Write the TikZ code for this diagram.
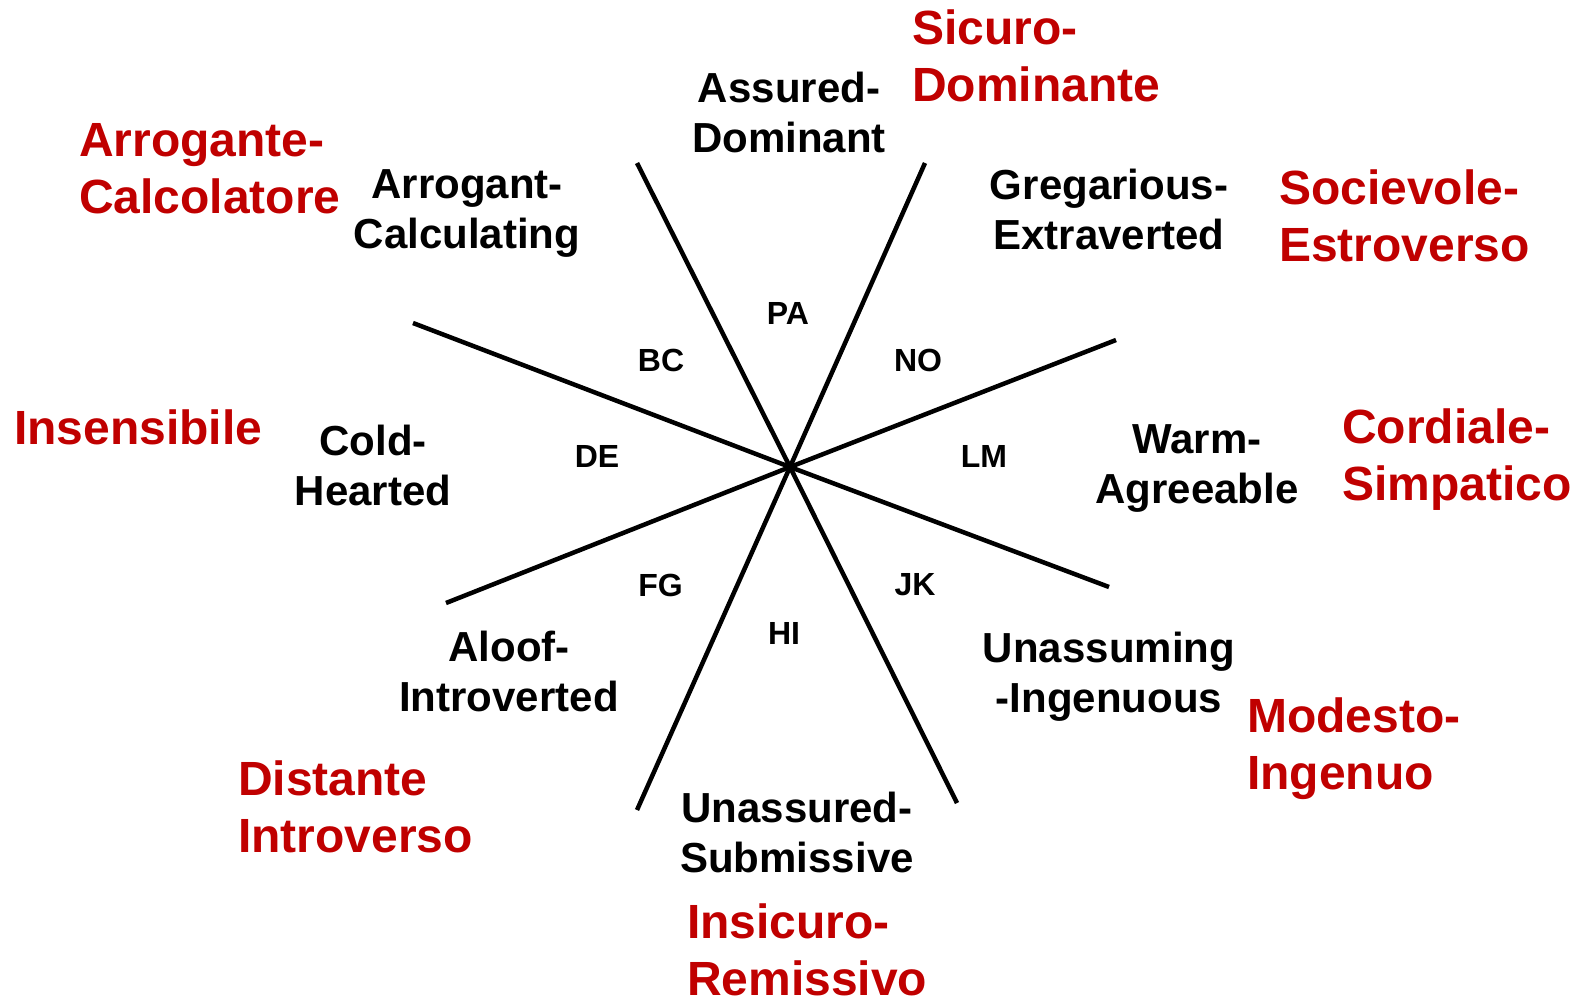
\documentclass[tikz,border=0pt]{standalone}
\usepackage{fontspec}
\setmainfont{Liberation Sans}
\definecolor{myred}{HTML}{C00000}
\newcommand\mycstack[1]{\begin{tabular}[t]{@{}c@{}}#1\end{tabular}}
\newcommand\mylstack[1]{\begin{tabular}[t]{@{}l@{}}#1\end{tabular}}
\begin{document}
\begin{tikzpicture}[x=1pt,y=-1pt,
  blk/.style={font=\fontsize{42}{50}\selectfont\bfseries, inner sep=0pt, anchor=base},
  redl/.style={font=\fontsize{48}{57}\selectfont\bfseries, text=myred, inner sep=0pt, anchor=base west},
  sml/.style={font=\fontsize{32}{38}\selectfont\bfseries, inner sep=0pt, anchor=center},
  axis/.style={line width=4.5pt}]
\useasboundingbox (0,0) rectangle (1581,1001);
% spokes
\coordinate (c) at (790,467);
\coordinate (s1a) at (637,163);
\coordinate (s1b) at (957,803);
\coordinate (s2a) at (925,163);
\coordinate (s2b) at (637,810);
\coordinate (s3a) at (413,323);
\coordinate (s3b) at (1109,587);
\coordinate (s4a) at (1116,340);
\coordinate (s4b) at (446,603);
\draw[axis] (s1a) -- (c) -- (s1b);
\draw[axis] (s2a) -- (c) -- (s2b);
\draw[axis] (s3a) -- (c) -- (s3b);
\draw[axis] (s4a) -- (c) -- (s4b);
% octant codes
\node[sml] (pa) at (788,313) {PA};
\node[sml] (no) at (918,360) {NO};
\node[sml] (bc) at (661,360.5) {BC};
\node[sml] (de) at (597,456.5) {DE};
\node[sml] (lm) at (984,456.5) {LM};
\node[sml] (fg) at (660.5,585) {FG};
\node[sml] (jk) at (915,585) {JK};
\node[sml] (hi) at (784,633.5) {HI};
% english labels
\node[blk] (assured) at (789,102) {\mycstack{Assured-\\Dominant}};
\node[blk] (arrogant) at (467,198) {\mycstack{Arrogant-\\Calculating}};
\node[blk] (gregarious) at (1109,199) {\mycstack{Gregarious-\\Extraverted}};
\node[blk] (cold) at (373,455) {\mycstack{Cold-\\Hearted}};
\node[blk] (warm) at (1197,453) {\mycstack{Warm-\\Agreeable}};
\node[blk] (aloof) at (509,661) {\mycstack{Aloof-\\Introverted}};
\node[blk] (unassuming) at (1109,662) {\mycstack{Unassuming\\-Ingenuous}};
\node[blk] (unassured) at (797,822) {\mycstack{Unassured-\\Submissive}};
% italian labels
\node[redl] (sicuro) at (912,44) {\mylstack{Sicuro-\\Dominante}};
\node[redl] (arrogante) at (79,156) {\mylstack{Arrogante-\\Calcolatore}};
\node[redl] (socievole) at (1279,204) {\mylstack{Socievole-\\Estroverso}};
\node[redl] (insensibile) at (14,444) {Insensibile};
\node[redl] (cordiale) at (1342,443) {\mylstack{Cordiale-\\Simpatico}};
\node[redl] (modesto) at (1247,732) {\mylstack{Modesto-\\Ingenuo}};
\node[redl] (distante) at (238,795) {\mylstack{Distante\\Introverso}};
\node[redl] (insicuro) at (687,938) {\mylstack{Insicuro-\\Remissivo}};
\end{tikzpicture}
\end{document}
